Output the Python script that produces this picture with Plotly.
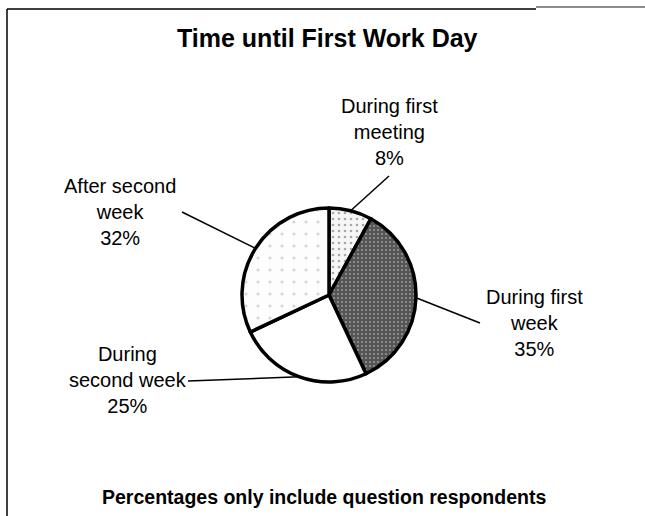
import math
import plotly.graph_objects as go

categories = ["During first meeting", "During first week", "During second week", "After second week"]
label_lines = ["During first<br>meeting<br>8%", "During first<br>week<br>35%", "During<br>second week<br>25%", "After second<br>week<br>32%"]
values = [8, 35, 25, 32]

W, H = 645, 516
cx, cy, R = 329, 295, 87  # pie center / radius in px

def px(x, y):
    return x / W, 1 - y / H

fig = go.Figure()
fig.add_trace(go.Pie(
    labels=categories, values=values, sort=False, direction="clockwise", rotation=0,
    textinfo="none", hoverinfo="label+percent", showlegend=False,
    domain=dict(x=[(cx - R) / W, (cx + R) / W], y=[1 - (cy + R) / H, 1 - (cy - R) / H]),
    marker=dict(
        colors=["#f4f4f4", "#4e4e4e", "#ffffff", "#fdfdfd"],
        line=dict(color="black", width=3.5),
        pattern=dict(shape=[".", ".", "", "."],
                     bgcolor=["#f6f6f6", "#555555", "#ffffff", "#fdfdfd"],
                     fgcolor=["#a8a8a8", "#9a9a9a", "#ffffff", "#d4d4d4"],
                     size=[6, 4, 5, 12], solidity=[0.15, 0.2, 0.1, 0.05]),
    ),
))

# label text centers (px) and leader-line ends (px)
label_pos = [(389, 132), (534, 323), (128, 380), (120, 212)]
line_end = [(389, 176), (480, 323), (188, 381), (182, 212)]
font_lbl = dict(family="Liberation Sans, Arial", size=20, color="black")

total = sum(values)
cum = 0
shapes = []
annotations = []
for i, v in enumerate(values):
    mid = (cum + v / 2) / total * 2 * math.pi
    cum += v
    ex = cx + R * math.sin(mid)
    ey = cy - R * math.cos(mid)
    x0, y0 = px(ex, ey)
    x1, y1 = px(*line_end[i])
    shapes.append(dict(type="line", xref="paper", yref="paper", x0=x0, y0=y0, x1=x1, y1=y1,
                       line=dict(color="black", width=1.5)))
    lx, ly = px(*label_pos[i])
    annotations.append(dict(text=label_lines[i], x=lx, y=ly, xref="paper", yref="paper",
                            showarrow=False, xanchor="center", yanchor="middle", align="center",
                            font=font_lbl))

# frame lines
fx0, fy0 = px(7, 9)
fx1, _ = px(536, 9)
_, fyg = px(536, 7)
fx2, _ = px(645, 7)
_, fyb = px(7, 516)
shapes += [
    dict(type="line", xref="paper", yref="paper", x0=fx0, y0=fy0, x1=fx1, y1=fy0, line=dict(color="black", width=1.5)),
    dict(type="line", xref="paper", yref="paper", x0=fx1, y0=fyg, x1=fx2, y1=fyg, line=dict(color="#666666", width=1.5)),
    dict(type="line", xref="paper", yref="paper", x0=fx0, y0=fy0, x1=fx0, y1=fyb, line=dict(color="black", width=1.5)),
]

tx, ty = px(327, 38)
bx, by = px(324, 497)
annotations += [
    dict(text="<b>Time until First Work Day</b>", x=tx, y=ty, xref="paper", yref="paper", showarrow=False,
         xanchor="center", yanchor="middle", font=dict(family="Liberation Sans, Arial", size=25, color="black")),
    dict(text="<b>Percentages only include question respondents</b>", x=bx, y=by, xref="paper", yref="paper",
         showarrow=False, xanchor="center", yanchor="middle",
         font=dict(family="Liberation Sans, Arial", size=19.5, color="black")),
]

fig.update_layout(width=W, height=H, margin=dict(l=0, r=0, t=0, b=0),
                  paper_bgcolor="white", plot_bgcolor="white",
                  shapes=shapes, annotations=annotations)
fig.write_html("out.html", config={"displayModeBar": False},
               post_script="document.body.style.margin='0';document.body.style.overflow='hidden';")
